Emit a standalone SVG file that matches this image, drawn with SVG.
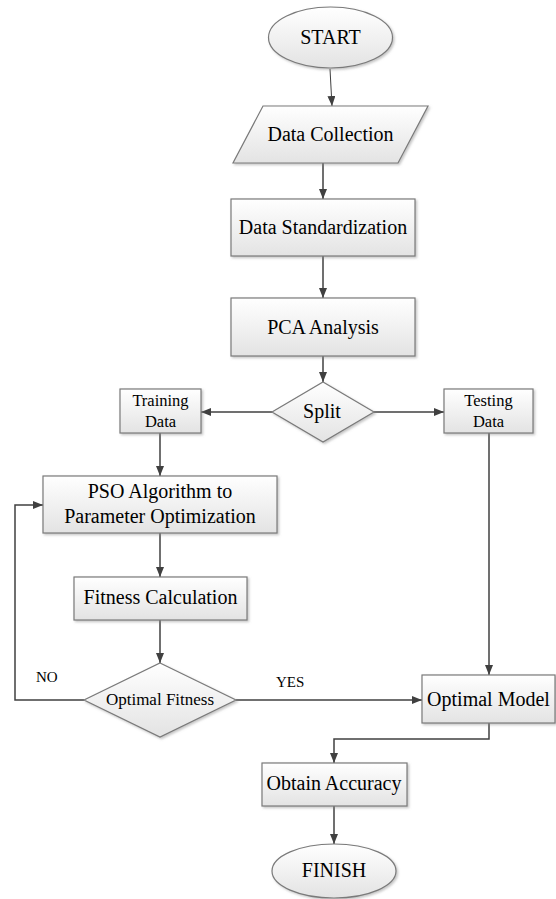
<svg xmlns="http://www.w3.org/2000/svg" width="556" height="899" viewBox="0 0 556 899">
<style>
.shape{fill:url(#g);stroke:#7a7a7a;stroke-width:1.2;filter:url(#sh)}
.t{font-family:"Liberation Serif","Times New Roman",serif;font-size:20px;fill:#000;text-anchor:middle}
.s{font-size:16.5px}
.lbl{font-family:"Liberation Serif","Times New Roman",serif;font-size:15px;fill:#000}
.c{fill:none;stroke:#404040;stroke-width:1.5;marker-end:url(#ah)}
</style>
<defs>
<linearGradient id="g" x1="0" y1="0" x2="0" y2="1">
<stop offset="0" stop-color="#ffffff"/>
<stop offset="1" stop-color="#e3e3e3"/>
</linearGradient>
<filter id="sh" x="-10%" y="-10%" width="125%" height="130%">
<feDropShadow dx="1.5" dy="1.5" stdDeviation="1" flood-color="#888" flood-opacity="0.5"/>
</filter>
<marker id="ah" markerWidth="10" markerHeight="8" refX="10" refY="4" orient="auto" markerUnits="userSpaceOnUse">
<path d="M0,0 L10,4 L0,8 z" fill="#404040"/>
</marker>
</defs>
<g id="connectors">
<path class="c" d="M330,69 L332,106" style="stroke-width:1"/>
<path class="c" d="M323,163 L323,199"/>
<path class="c" d="M323,256 L323,298"/>
<path class="c" d="M323,356 L323,382"/>
<path class="c" d="M272,412 L201,412"/>
<path class="c" d="M374,412 L444,412"/>
<path class="c" d="M160,433 L160,476"/>
<path class="c" d="M160,533 L160,577"/>
<path class="c" d="M160,620 L160,663"/>
<path class="c" d="M84,700 L15,700 L15,505 L43,505"/>
<path class="c" d="M236,700 L422,700"/>
<path class="c" d="M489,433 L489,675"/>
<path class="c" d="M489,723 L489,739 L334,739 L334,763"/>
<path class="c" d="M334,806 L334,844"/>
<text class="lbl" x="36" y="682">NO</text>
<text class="lbl" x="276" y="687">YES</text>
</g>
<g id="start">
<ellipse class="shape" cx="330.5" cy="37.5" rx="62" ry="30.5"/>
<text class="t" x="330.5" y="44">START</text>
</g>
<g id="data-collection">
<polygon class="shape" points="263,106 428,106 398,163 233,163"/>
<text class="t" x="330.5" y="141">Data Collection</text>
</g>
<g id="data-standardization">
<rect class="shape" x="231" y="199" width="184" height="57"/>
<text class="t" x="323" y="234">Data Standardization</text>
</g>
<g id="pca">
<rect class="shape" x="231" y="298" width="184" height="58"/>
<text class="t" x="323" y="334">PCA Analysis</text>
</g>
<g id="split">
<polygon class="shape" points="323,382 374,412 323,442 272,412"/>
<text class="t" x="322" y="418">Split</text>
</g>
<g id="training-data">
<rect class="shape" x="120" y="389" width="81" height="44"/>
<text class="t s" x="160.5" y="406">Training</text>
<text class="t s" x="160.5" y="427">Data</text>
</g>
<g id="testing-data">
<rect class="shape" x="444" y="389" width="89" height="44"/>
<text class="t s" x="488.5" y="406">Testing</text>
<text class="t s" x="488.5" y="427">Data</text>
</g>
<g id="pso">
<rect class="shape" x="43" y="476" width="234" height="57"/>
<text class="t" x="160" y="498">PSO Algorithm to</text>
<text class="t" x="160" y="523">Parameter Optimization</text>
</g>
<g id="fitness-calculation">
<rect class="shape" x="74" y="577" width="173" height="43"/>
<text class="t" x="160.5" y="604">Fitness Calculation</text>
</g>
<g id="optimal-fitness">
<polygon class="shape" points="160,663 236,700 160,737 84,700"/>
<text class="t" x="160" y="705" style="font-size:17px">Optimal Fitness</text>
</g>
<g id="optimal-model">
<rect class="shape" x="422" y="675" width="133" height="48"/>
<text class="t" x="488.5" y="706">Optimal Model</text>
</g>
<g id="obtain-accuracy">
<rect class="shape" x="262" y="763" width="145" height="43"/>
<text class="t" x="334" y="790">Obtain Accuracy</text>
</g>
<g id="finish">
<ellipse class="shape" cx="334" cy="871" rx="62" ry="27"/>
<text class="t" x="334" y="877">FINISH</text>
</g>
</svg>
